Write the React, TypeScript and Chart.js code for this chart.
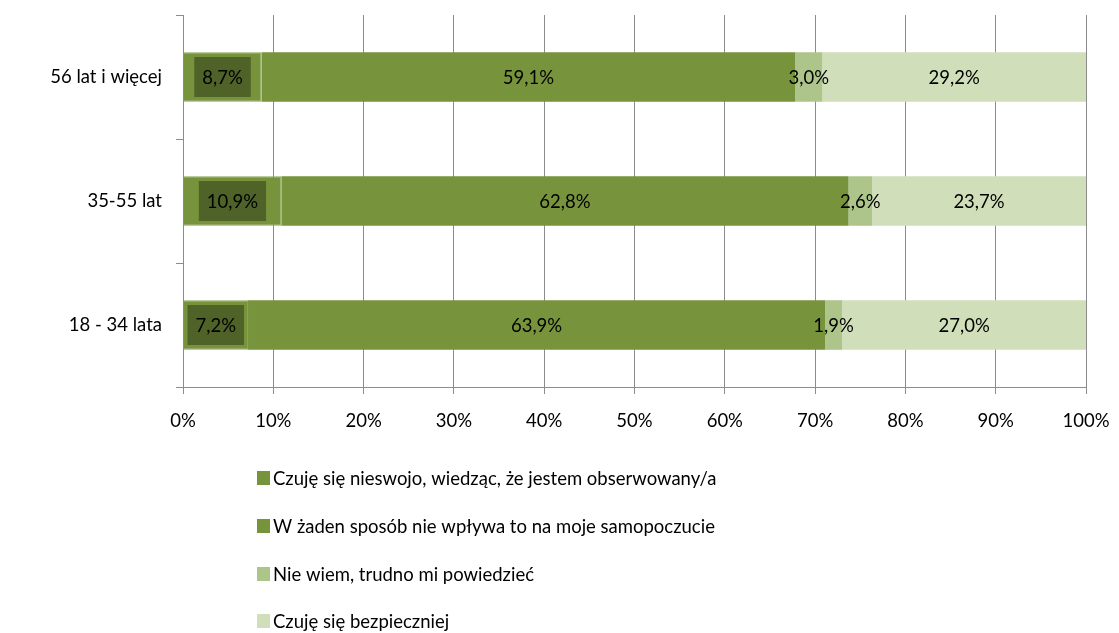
import React, { useEffect, useRef } from "react";
import { Chart, registerables } from "chart.js";

Chart.register(...registerables);

const categories = ["56 lat i więcej", "35-55 lat", "18 - 34 lata"];
const seriesNames = [
  "Czuję się nieswojo, wiedząc, że jestem obserwowany/a",
  "W żaden sposób nie wpływa to na moje samopoczucie",
  "Nie wiem, trudno mi powiedzieć",
  "Czuję się bezpieczniej",
];
const uneasy = [8.7, 10.9, 7.2];
const noEffect = [59.1, 62.8, 63.9];
const dontKnow = [3.0, 2.6, 1.9];
const safer = [29.2, 23.7, 27.0];
const xTicks = [0, 10, 20, 30, 40, 50, 60, 70, 80, 90, 100];

const colors = ["#77933C", "#77933C", "#ADC58A", "#D0DEB9"];
const FONT = "Lato, 'Open Sans', sans-serif";
const FS = 18.5;

const fmt = (v: number) => v.toFixed(1).replace(".", ",") + "%";

const labelPlugin = {
  id: "segLabels",
  afterDatasetsDraw(chart: any) {
    const ctx = chart.ctx;
    ctx.save();
    ctx.font = `${FS}px ${FONT}`;
    ctx.textAlign = "center";
    ctx.textBaseline = "middle";
    chart.data.datasets.forEach((ds: any, di: number) => {
      const meta = chart.getDatasetMeta(di);
      meta.data.forEach((bar: any, i: number) => {
        const v = ds.data[i];
        const x = (bar.x + bar.base) / 2;
        const y = bar.y;
        const t = fmt(v);
        if (di === 0) {
          const w = ctx.measureText(t).width + 16;
          const h = 40;
          ctx.fillStyle = "#4F6228";
          ctx.fillRect(x - w / 2, y - h / 2, w, h);
        }
        ctx.fillStyle = "#000";
        ctx.fillText(t, x, y + 1);
      });
    });
    ctx.restore();
  },
};

const legendPlugin = {
  id: "vLegend",
  afterDraw(chart: any) {
    const ctx = chart.ctx;
    ctx.save();
    ctx.font = `${FS}px ${FONT}`;
    ctx.textBaseline = "middle";
    ctx.textAlign = "left";
    const rows = [478, 526, 574, 621];
    seriesNames.forEach((name, i) => {
      const y = rows[i];
      ctx.fillStyle = colors[i];
      ctx.fillRect(257, y - 7, 13, 14);
      ctx.fillStyle = "#000";
      ctx.fillText(name, 273, y + 1);
    });
    ctx.restore();
  },
};

const noPad = (s: any) => {
  s.paddingTop = 0;
  s.paddingBottom = 0;
  s.paddingLeft = 0;
  s.paddingRight = 0;
};

export default function App() {
  const ref = useRef<HTMLCanvasElement>(null);
  useEffect(() => {
    document.body.style.margin = "0";
    const chart = new Chart(ref.current!, {
      type: "bar",
      data: {
        labels: categories,
        datasets: [uneasy, noEffect, dontKnow, safer].map((d, i) => ({
          label: seriesNames[i],
          data: d,
          backgroundColor: colors[i],
          borderColor: i === 0 ? "#8AA556" : colors[i],
          borderWidth: i === 0 ? 1 : 0,
          barPercentage: 0.4,
          categoryPercentage: 1,
        })),
      },
      options: {
        indexAxis: "y",
        animation: false,
        responsive: false,
        events: [],
        layout: { padding: { top: 15, right: 33, left: 0, bottom: 0 } },
        plugins: { legend: { display: false }, tooltip: { enabled: false } },
        scales: {
          x: {
            stacked: true,
            min: 0,
            max: 100,
            afterFit: (s: any) => {
              s.height = 246;
              noPad(s);
            },
            afterBuildTicks: (s: any) => {
              s.ticks = xTicks.map((v) => ({ value: v }));
            },
            ticks: {
              callback: (v: any) => v + "%",
              color: "#000",
              font: { family: FONT, size: FS },
              padding: 16,
              maxRotation: 0,
            },
            grid: { color: "#8C8C8C", lineWidth: 1, tickLength: 7 },
            border: { color: "#8C8C8C", width: 1 },
          },
          y: {
            stacked: true,
            afterFit: (s: any) => {
              s.width = 183;
              noPad(s);
            },
            ticks: {
              color: "#000",
              font: { family: FONT, size: FS },
              padding: 14,
            },
            grid: { drawOnChartArea: false, color: "#8C8C8C", tickLength: 7, offset: true },
            border: { color: "#8C8C8C", width: 1 },
          },
        },
      },
      plugins: [labelPlugin, legendPlugin],
    } as any);
    return () => chart.destroy();
  }, []);
  return <canvas ref={ref} width={1119} height={633} style={{ display: "block" }} />;
}
